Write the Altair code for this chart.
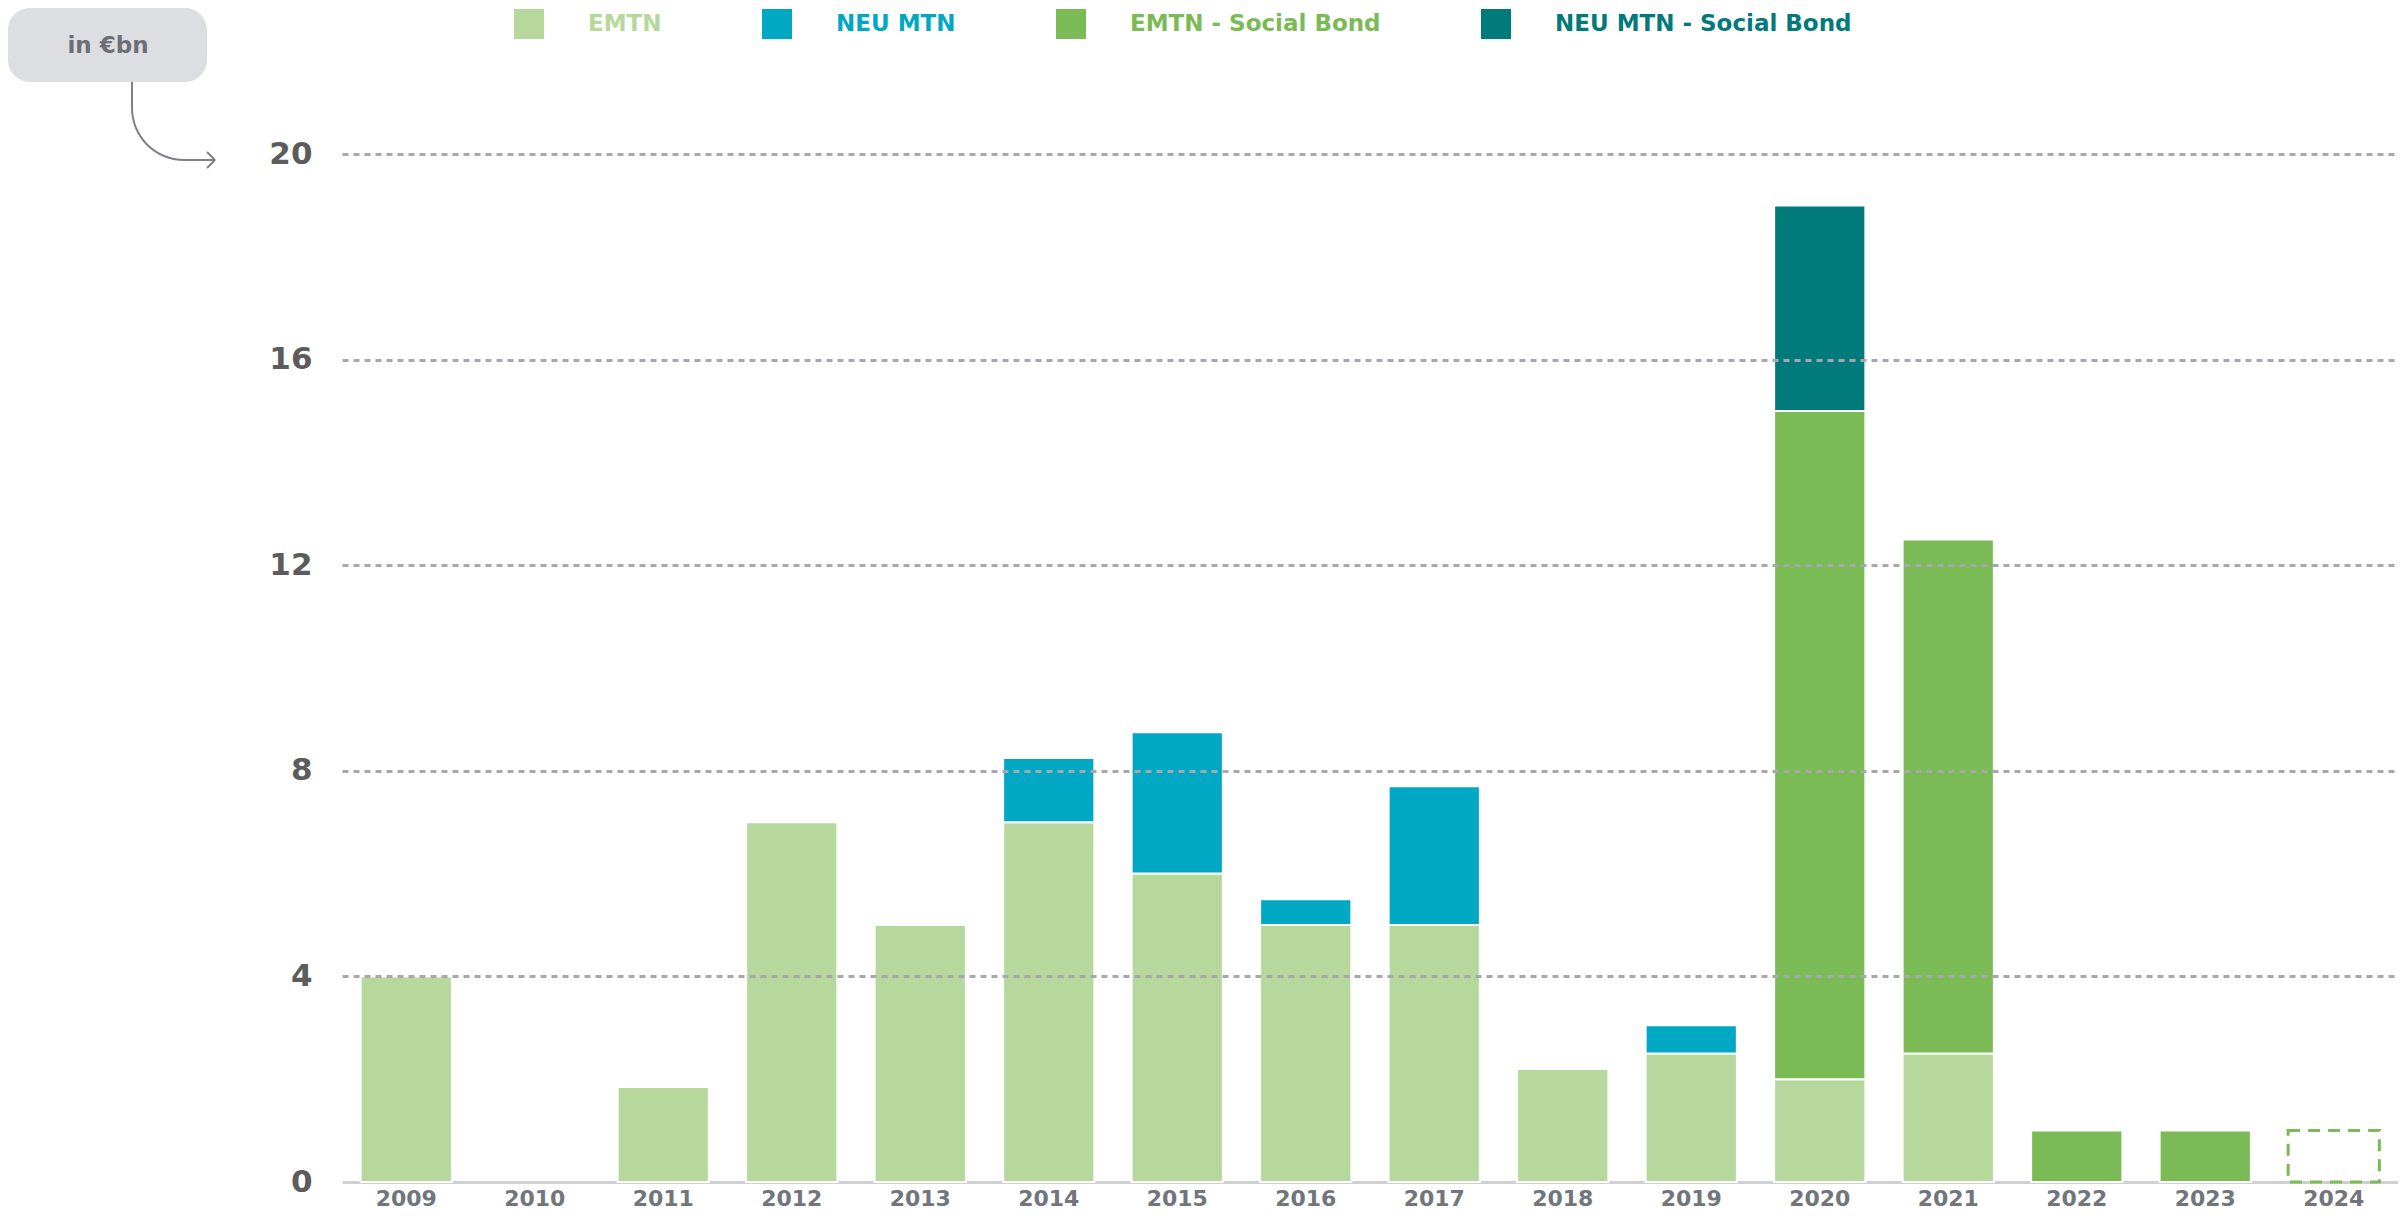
import altair as alt
import pandas as pd
import math

# ---- data (in €bn) ----
years = [str(y) for y in range(2009, 2025)]
emtn =        [4, 0, 1.85, 7, 5, 7, 6, 5, 5, 2.2, 2.5, 2, 2.5, 0, 0, 0]
neu_mtn =     [0, 0, 0, 0, 0, 1.25, 2.75, 0.5, 2.7, 0, 0.55, 0, 0, 0, 0, 0]
emtn_social = [0, 0, 0, 0, 0, 0, 0, 0, 0, 0, 0, 13, 10, 1, 1, 0]
neu_social =  [0, 0, 0, 0, 0, 0, 0, 0, 0, 0, 0, 4, 0, 0, 0, 0]
planned_year = ["2024"]
planned_value = [1]

series_names = ["EMTN", "NEU MTN", "EMTN - Social Bond", "NEU MTN - Social Bond"]
series_colors = ["#b6d89c", "#00a8c3", "#7bbb56", "#007a7a"]
y_ticks = [0, 4, 8, 12, 16, 20]

rows = []
for i, name in enumerate(series_names):
    vals = [emtn, neu_mtn, emtn_social, neu_social][i]
    for y, v in zip(years, vals):
        if v > 0:
            rows.append({"year": y, "series": name, "value": v, "order": i})
df = pd.DataFrame(rows)
planned_df = pd.DataFrame({"year": planned_year, "value": planned_value})

FONT = "DejaVu Sans"

x_scale = alt.Scale(domain=years, paddingInner=0.29, paddingOuter=0.145)
y_scale = alt.Scale(domain=[0, 20], nice=False)

x_axis = alt.Axis(
    title=None, labelAngle=0, ticks=False, grid=False,
    labelFont=FONT, labelFontSize=22, labelFontWeight="bold",
    labelColor="#71767d", labelPadding=6,
    domain=True, domainColor="#cfd0d3", domainWidth=3, zindex=0,
)
y_axis = alt.Axis(
    title=None, values=y_ticks, ticks=False, domain=False,
    labelFont=FONT, labelFontSize=31, labelFontWeight="bold",
    labelColor="#5c5c5c", labelPadding=30,
    grid=True, gridDash=[6, 5], gridColor="#a6a8ae", gridWidth=3,
    gridOpacity=alt.condition("datum.value == 0", alt.value(0), alt.value(1)),
    zindex=1,
)

bars = alt.Chart(df).mark_bar(stroke="white", strokeWidth=2).encode(
    x=alt.X("year:O", scale=x_scale, axis=x_axis),
    y=alt.Y("value:Q", stack="zero", scale=y_scale, axis=y_axis),
    color=alt.Color(
        "series:N",
        scale=alt.Scale(domain=series_names, range=series_colors),
        legend=alt.Legend(
            title=None, orient="none", legendX=172, legendY=-145,
            direction="horizontal", symbolType="square", symbolSize=900,
            symbolStrokeWidth=0, symbolOpacity=1,
            labelFont=FONT, labelFontSize=23, labelFontWeight="bold",
            labelOffset=44, columnPadding=100, labelLimit=400,
            labelColor={"expr": "scale('color', datum.value)"},
        ),
    ),
    order=alt.Order("order:Q", sort="ascending"),
)

planned = alt.Chart(planned_df).mark_bar(
    fill="white", fillOpacity=0, stroke="#7bbb56", strokeWidth=3, strokeDash=[12, 8]
).encode(
    x=alt.X("year:O", scale=x_scale, axis=x_axis),
    y=alt.Y("value:Q", scale=y_scale, axis=y_axis),
)

one = pd.DataFrame({"k": [0]})

box = alt.Chart(one).mark_rect(color="#dcdee1", cornerRadius=22).encode(
    x=alt.value(-334), x2=alt.value(-135), y=alt.value(-146), y2=alt.value(-72)
)
box_text = alt.Chart(one).mark_text(
    text="in €bn", font=FONT, fontSize=23, fontWeight="bold", color="#6c6f75",
    align="center", baseline="middle"
).encode(x=alt.value(-234), y=alt.value(-108))

ARROW = "#7d8187"
arrow_v = alt.Chart(one).mark_rule(color=ARROW, strokeWidth=2).encode(
    x=alt.value(-210), y=alt.value(-72), y2=alt.value(-46)
)
arrow_arc = alt.Chart(one).mark_arc(
    color=ARROW, radius=53, radius2=51, theta=math.pi, theta2=1.5 * math.pi
).encode(x=alt.value(-158), y=alt.value(-46))
arrow_h = alt.Chart(one).mark_rule(color=ARROW, strokeWidth=2).encode(
    x=alt.value(-159), x2=alt.value(-127), y=alt.value(6)
)
head1 = alt.Chart(one).mark_rule(color=ARROW, strokeWidth=2).encode(
    x=alt.value(-135), x2=alt.value(-127), y=alt.value(-2), y2=alt.value(6)
)
head2 = alt.Chart(one).mark_rule(color=ARROW, strokeWidth=2).encode(
    x=alt.value(-135), x2=alt.value(-127), y=alt.value(14), y2=alt.value(6)
)

chart = alt.layer(
    bars, planned, box, box_text, arrow_v, arrow_arc, arrow_h, head1, head2
).properties(
    width=2056, height=1028,
    background="white",
    autosize=alt.AutoSizeParams(type="none"),
    padding={"left": 334, "top": 146, "right": 0, "bottom": 30},
).configure_view(strokeWidth=0, stroke=None)

chart.save("out.html", embed_options={"renderer": "svg", "actions": False})
